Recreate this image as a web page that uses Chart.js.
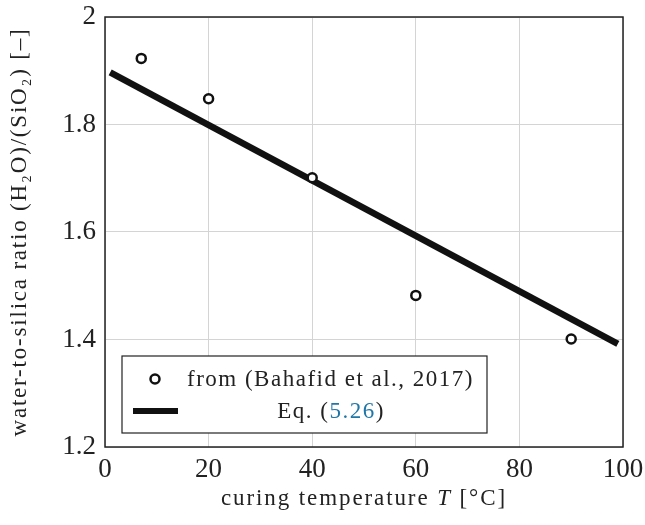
<!DOCTYPE html>
<html>
<head>
<meta charset="utf-8">
<script src="https://cdn.jsdelivr.net/npm/chart.js@4.4.1/dist/chart.umd.min.js"></script>
<style>
  html, body { margin: 0; padding: 0; background: #fff; }
  #wrap { width: 645px; height: 525px; }
</style>
</head>
<body>
<div id="wrap"><canvas id="c" width="645" height="525"></canvas></div>
<script>
// measured points (Bahafid et al., 2017)
const tempData = [7, 20, 40, 60, 90];
const ratioData = [1.923, 1.848, 1.701, 1.482, 1.401];
// Eq. (5.26) fitted line, end points
const eqTemp = [1, 99];
const eqRatio = [1.897, 1.392];
const xTicks = [0, 20, 40, 60, 80, 100];
const yTicks = [1.2, 1.4, 1.6, 1.8, 2];

const serif = '"Liberation Serif", "DejaVu Serif", serif';

// draw a row of [text, font, colour] pieces, centred or left aligned
function drawParts(ctx, parts, x, y, center) {
  let w = 0;
  parts.forEach(p => { ctx.font = p[1]; w += ctx.measureText(p[0]).width; });
  let cx = center ? x - w / 2 : x;
  parts.forEach(p => {
    ctx.font = p[1];
    ctx.fillStyle = p[2] || '#222';
    ctx.fillText(p[0], cx, y);
    cx += ctx.measureText(p[0]).width;
  });
}

// frame around the plot area, axis titles and legend box
const framePlugin = {
  id: 'frame',
  afterDraw(chart) {
    const { ctx, chartArea: a } = chart;
    ctx.save();
    ctx.strokeStyle = '#222';
    ctx.lineWidth = 1.5;
    ctx.strokeRect(a.left, a.top, a.right - a.left, a.bottom - a.top);

    const f = '23px ' + serif;
    ctx.letterSpacing = '1.9px';
    ctx.textBaseline = 'alphabetic';
    drawParts(ctx, [
      ['curing temperature ', f],
      ['T', 'italic ' + f],
      [' [°C]', f]
    ], (a.left + a.right) / 2, 505, true);

    ctx.letterSpacing = '1.8px';
    ctx.save();
    ctx.translate(26, (a.top + a.bottom) / 2);
    ctx.rotate(-Math.PI / 2);
    drawParts(ctx, [['water-to-silica ratio (H₂O)/(SiO₂) [–]', f]], 0, 0, true);
    ctx.restore();

    // legend
    ctx.fillStyle = '#fff';
    ctx.fillRect(122, 356, 365, 77);
    ctx.strokeStyle = '#222';
    ctx.lineWidth = 1.2;
    ctx.strokeRect(122, 356, 365, 77);
    ctx.beginPath();
    ctx.arc(155, 379, 4.5, 0, Math.PI * 2);
    ctx.lineWidth = 2.5;
    ctx.strokeStyle = '#111';
    ctx.stroke();
    ctx.beginPath();
    ctx.moveTo(133, 411);
    ctx.lineTo(178, 411);
    ctx.lineWidth = 6;
    ctx.stroke();
    ctx.letterSpacing = '1.5px';
    ctx.textBaseline = 'middle';
    drawParts(ctx, [['from (Bahafid et al., 2017)', f]], 187, 380, false);
    drawParts(ctx, [['Eq. (', f], ['5.26', f, '#1f77a8'], [')', f]], 331, 412, true);
    ctx.restore();
  }
};

new Chart(document.getElementById('c'), {
  type: 'scatter',
  data: {
    datasets: [{
      label: 'from (Bahafid et al., 2017)',
      data: tempData.map((t, i) => ({ x: t, y: ratioData[i] })),
      pointRadius: 4.5,
      pointBorderWidth: 2.5,
      pointBorderColor: '#111',
      pointBackgroundColor: '#fff',
      order: 1
    }, {
      label: 'Eq. (5.26)',
      type: 'line',
      data: eqTemp.map((t, i) => ({ x: t, y: eqRatio[i] })),
      borderColor: '#111',
      borderWidth: 6.5,
      pointRadius: 0,
      order: 2
    }]
  },
  options: {
    responsive: false,
    animation: false,
    layout: { padding: 0 },
    plugins: { legend: { display: false }, tooltip: { enabled: false } },
    scales: {
      x: {
        type: 'linear', min: 0, max: 100,
        afterBuildTicks: s => { s.ticks = xTicks.map(v => ({ value: v })); },
        afterFit: s => { s.height = 78; s.paddingLeft = 0; s.paddingRight = 22; },
        grid: { color: '#d4d4d4', lineWidth: 1, drawTicks: false },
        border: { display: false },
        ticks: { color: '#222', font: { family: serif, size: 27 }, padding: 7, maxRotation: 0 }
      },
      y: {
        min: 1.2, max: 2,
        afterBuildTicks: s => { s.ticks = yTicks.map(v => ({ value: v })); },
        afterFit: s => { s.width = 105; s.paddingTop = 17; s.paddingBottom = 0; },
        grid: { color: '#d4d4d4', lineWidth: 1, drawTicks: false },
        border: { display: false },
        ticks: { color: '#222', font: { family: serif, size: 27 }, padding: 9,
          callback: v => String(Math.round(v * 10) / 10) }
      }
    }
  },
  plugins: [framePlugin]
});
</script>
</body>
</html>
